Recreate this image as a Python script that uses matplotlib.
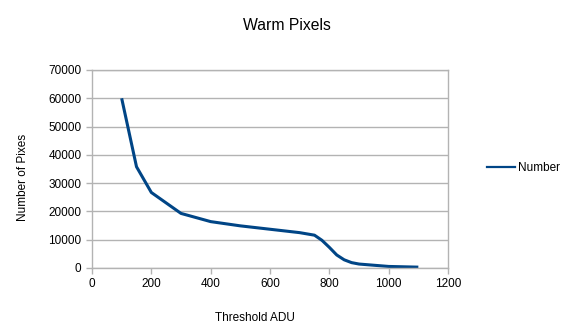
import matplotlib
matplotlib.use("Agg")
import matplotlib.pyplot as plt
from matplotlib.lines import Line2D

threshold = [100, 150, 200, 300, 400, 500, 600, 700, 750, 775, 800, 825, 850, 875, 900, 1000, 1100]
number = [60000, 35800, 26700, 19300, 16400, 14900, 13700, 12500, 11600, 9800, 7300, 4600, 2900, 1900, 1400, 550, 300]
x_ticks = [0, 200, 400, 600, 800, 1000, 1200]
y_ticks = [0, 10000, 20000, 30000, 40000, 50000, 60000, 70000]

plt.rcParams['font.family'] = ['Liberation Sans', 'DejaVu Sans']
fig = plt.figure(figsize=(5.69, 3.36), dpi=100)
ax = fig.add_axes([92/569, 1-268/336, 356/569, 198/336])

ax.plot(threshold, number, color='#004586', lw=2.2, label='Number', solid_joinstyle='round', solid_capstyle='butt')
ax.set_xlim(0, 1200)
ax.set_ylim(0, 70000)
ax.set_xticks(x_ticks)
ax.set_yticks(y_ticks)
ax.tick_params(labelsize=8.5, colors='#b3b3b3', labelcolor='black', length=4, width=1)
ax.grid(axis='y', color='#b3b3b3', lw=1)
ax.set_axisbelow(True)
for s in ax.spines.values():
    s.set_color('#b3b3b3')
    s.set_linewidth(1)

ax.set_xlabel('Threshold ADU', fontsize=8.5)
ax.xaxis.set_label_coords(0.458, -0.222)
ax.set_ylabel('Number of Pixes', fontsize=8.5)
ax.yaxis.set_label_coords(-0.177, 0.455)

fig.text(287/569, 1-25/336, 'Warm Pixels', ha='center', va='center', fontsize=11.3)

handle = Line2D([], [], color='#004586', lw=1.6)
fig.legend([handle], ['Number'], loc='center left', bbox_to_anchor=(476/569, 1-168/336), frameon=False,
           fontsize=8.5, handlelength=2.4, handletextpad=0.25)

fig.savefig('out.png', dpi=100)
